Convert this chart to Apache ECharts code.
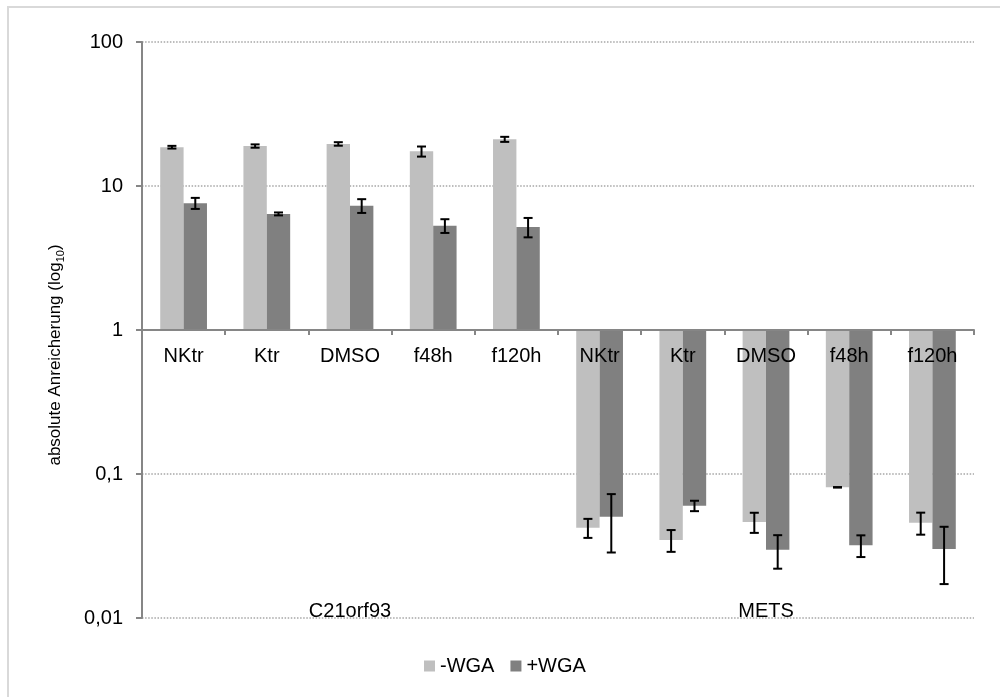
<!DOCTYPE html>
<html>
<head>
<meta charset="utf-8">
<script src="https://cdn.jsdelivr.net/npm/echarts@6/dist/echarts.min.js"></script>
<style>
html,body{margin:0;padding:0;background:#fff;}
#chart{width:1000px;height:697px;}
</style>
</head>
<body>
<div id="chart"></div>
<script>
// ---- data ----
var categories = ['NKtr', 'Ktr', 'DMSO', 'f48h', 'f120h', 'NKtr', 'Ktr', 'DMSO', 'f48h', 'f120h'];
var groups = ['C21orf93', 'METS'];
var seriesNames = ['-WGA', '+WGA'];
var minusWGA = [18.6, 18.95, 19.6, 17.4, 21.1, 0.0424, 0.0348, 0.0464, 0.0808, 0.0459];
var minusWGAErr = [0.4, 0.5, 0.55, 1.4, 0.85, 0.0064, 0.006, 0.0074, 0.0003, 0.008];
var plusWGA = [7.6, 6.4, 7.3, 5.3, 5.2, 0.0505, 0.0602, 0.0298, 0.032, 0.0301];
var plusWGAErr = [0.67, 0.15, 0.8, 0.58, 0.8, 0.022, 0.005, 0.0078, 0.0055, 0.0129];
var yTickLabels = {'0.01': '0,01', '0.1': '0,1', '1': '1', '10': '10', '100': '100'};

var FONT = '"Liberation Sans", Arial, sans-serif';
var BAR_W = 0.281; // fraction of category band

function errData(vals, errs) {
  return vals.map(function (v, i) { return [i, v, errs[i]]; });
}
function makeErrRender(sign) {
  return function (params, api) {
    var i = api.value(0), v = api.value(1), e = api.value(2);
    var band = api.size([1, 0])[0];
    var cx = api.coord([i, v])[0] + sign * band * BAR_W / 2;
    var yTop = api.coord([i, v + e])[1];
    var yBot = api.coord([i, v - e])[1];
    var cap = 4.5;
    var st = {stroke: '#000', lineWidth: 2};
    return {
      type: 'group',
      children: [
        {type: 'line', shape: {x1: cx, y1: yTop, x2: cx, y2: yBot}, style: st},
        {type: 'line', shape: {x1: cx - cap, y1: yTop, x2: cx + cap, y2: yTop}, style: st},
        {type: 'line', shape: {x1: cx - cap, y1: yBot, x2: cx + cap, y2: yBot}, style: st}
      ]
    };
  };
}

var chart = echarts.init(document.getElementById('chart'), null, {renderer: 'canvas'});
var option = {
  backgroundColor: '#fff',
  animation: false,
  textStyle: {fontFamily: FONT},
  graphic: [
    {type: 'rect', shape: {x: 8, y: 7, width: 1200, height: 900},
     style: {fill: 'none', stroke: '#d9d9d9', lineWidth: 2}, z: -10, silent: true},
    {type: 'text', x: 55, y: 355, rotation: Math.PI / 2,
     style: {
       text: '{a|absolute Anreicherung (log}{s|10}{a|)}',
       align: 'center', verticalAlign: 'middle',
       rich: {
         a: {fontSize: 17, lineHeight: 22, fontFamily: FONT, fill: '#000', verticalAlign: 'middle'},
         s: {fontSize: 11, lineHeight: 12, fontFamily: FONT, fill: '#000', verticalAlign: 'bottom'}
       }
     }}
  ],
  grid: {left: 142, right: 26, top: 42, bottom: 79, containLabel: false},
  legend: {
    data: seriesNames,
    left: 424, top: 656,
    icon: 'rect', itemWidth: 11, itemHeight: 11, itemGap: 16,
    textStyle: {fontSize: 20, color: '#000', fontFamily: FONT},
    padding: 0
  },
  xAxis: [
    {
      type: 'category', data: categories, position: 'bottom', offset: -288, z: 10,
      axisLine: {show: true, lineStyle: {color: '#868686', width: 2}},
      axisTick: {show: true, length: 5, lineStyle: {color: '#868686', width: 2}},
      axisLabel: {fontSize: 20, color: '#000', margin: 16, fontFamily: FONT, interval: 0}
    },
    {
      type: 'category', data: groups, position: 'bottom', offset: -17, z: 10,
      axisLine: {show: false}, axisTick: {show: false},
      axisLabel: {fontSize: 20, color: '#000', margin: 0, fontFamily: FONT, interval: 0}
    }
  ],
  yAxis: {
    type: 'log', logBase: 10, min: 0.01, max: 100,
    axisLine: {show: true, lineStyle: {color: '#868686', width: 2}},
    axisTick: {show: true, length: 6, lineStyle: {color: '#868686', width: 2}},
    minorTick: {show: false},
    splitLine: {show: true, lineStyle: {color: '#a6a6a6', width: 1.5, type: [1.5, 1.6]}},
    axisLabel: {
      fontSize: 20, color: '#000', margin: 19, fontFamily: FONT,
      formatter: function (v) {
        var k = String(+v.toPrecision(6));
        return yTickLabels[k] !== undefined ? yTickLabels[k] : k.replace('.', ',');
      }
    }
  },
  series: [
    {name: seriesNames[0], type: 'bar', data: minusWGA, barWidth: (BAR_W * 100) + '%', barGap: '0%',
     itemStyle: {color: '#bfbfbf'}, z: 2},
    {name: seriesNames[1], type: 'bar', data: plusWGA, barWidth: (BAR_W * 100) + '%', barGap: '0%',
     itemStyle: {color: '#808080'}, z: 2},
    {name: 'err-', type: 'custom', data: errData(minusWGA, minusWGAErr), encode: {x: 0, y: 1},
     renderItem: makeErrRender(-1), z: 12, silent: true},
    {name: 'err+', type: 'custom', data: errData(plusWGA, plusWGAErr), encode: {x: 0, y: 1},
     renderItem: makeErrRender(1), z: 12, silent: true}
  ]
};
chart.setOption(option);
</script>
</body>
</html>
